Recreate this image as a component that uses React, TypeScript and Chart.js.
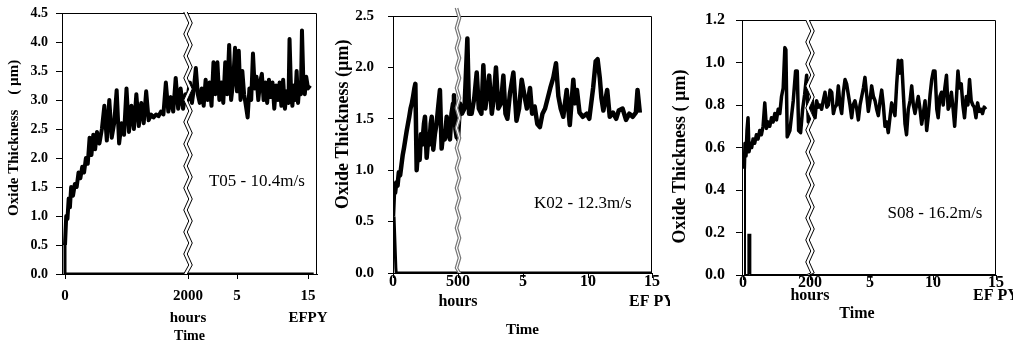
import React, { useEffect, useRef } from "react";
import { Chart, registerables } from "chart.js";

Chart.register(...registerables);

const SERIF = "'Liberation Serif', 'Times New Roman', Times, serif";

type Pt = [number, number];

// ---------------- T05 - 10.4 m/s ----------------
const T05_HOURS: Pt[] = [
  [0, 0.5], [20, 1.0], [40, 0.95], [60, 1.3], [80, 1.15], [100, 1.5], [130, 1.35], [160, 1.55],
  [190, 1.5], [220, 1.75], [250, 1.65], [280, 1.85], [310, 1.75], [340, 2.0], [370, 1.9], [400, 2.35],
  [430, 2.05], [460, 2.4], [490, 2.15], [520, 2.45], [560, 2.25], [600, 2.5], [640, 2.9], [680, 2.3],
  [720, 3.0], [760, 2.35], [800, 2.6], [840, 3.17], [880, 2.25], [920, 2.6], [960, 2.4], [1000, 3.2],
  [1040, 2.45], [1080, 2.9], [1120, 2.5], [1160, 3.1], [1200, 2.55], [1240, 2.95], [1280, 2.6], [1320, 3.15],
  [1360, 2.65], [1400, 2.75], [1440, 2.7], [1480, 2.75], [1520, 2.72], [1560, 2.8], [1600, 2.75], [1640, 3.3],
  [1680, 2.8], [1720, 3.05], [1760, 2.8], [1800, 3.38], [1840, 2.85], [1880, 3.2], [1920, 2.85], [1960, 3.1],
  [2000, 3.0],
];
const T05_EFPY: Pt[] = [
  [0, 3.1], [0.2, 3.3], [0.4, 2.95], [0.6, 3.2], [0.8, 3.55], [1.0, 3.1], [1.2, 2.95], [1.4, 3.2],
  [1.6, 2.9], [1.8, 3.35], [2.0, 3.0], [2.2, 3.3], [2.4, 2.9], [2.6, 3.65], [2.8, 3.1], [3.0, 3.65],
  [3.2, 3.0], [3.4, 3.3], [3.6, 2.95], [3.8, 3.65], [4.0, 3.1], [4.2, 3.95], [4.4, 3.0], [4.6, 3.3],
  [4.8, 3.9], [5.0, 3.15], [5.25, 3.85], [5.5, 3.0], [5.75, 3.5], [6.0, 3.1], [6.25, 2.9], [6.5, 2.7],
  [6.75, 3.2], [7.0, 3.0], [7.25, 3.8], [7.5, 3.2], [7.75, 3.4], [8.0, 3.0], [8.25, 3.3], [8.5, 3.45],
  [8.75, 3.0], [9.0, 3.3], [9.25, 2.95], [9.5, 3.35], [9.75, 3.05], [10.0, 3.3], [10.25, 2.85], [10.5, 3.25],
  [10.75, 3.0], [11.0, 3.3], [11.25, 2.9], [11.5, 3.35], [11.75, 2.85], [12.0, 3.15], [12.25, 2.95], [12.4, 4.05],
  [12.6, 3.2], [12.8, 2.9], [13.0, 3.25], [13.2, 3.0], [13.4, 3.5], [13.6, 2.95], [13.8, 3.3], [14.0, 3.1],
  [14.15, 4.2], [14.35, 3.3], [14.55, 3.1], [14.75, 3.4], [15.0, 3.2], [15.3, 3.25],
];
const T05_ZERO_HOURS: Pt[] = [[0, 0.5], [0, 0]];
const T05_ZERO_EFPY: Pt[] = [[15.8, 0]];
const T05_TICKS_HOURS = [0, 2000];
const T05_TICKS_EFPY = [5, 15];
const T05_TICK_LABELS: (string | string[])[] = ["0", ["2000", "hours"], "5", ["15", "EFPY"]];

// ---------------- K02 - 12.3 m/s ----------------
const K02_HOURS: Pt[] = [
  [0, 0.55], [8, 0.8], [16, 0.78], [25, 0.88], [35, 0.85], [45, 0.98], [55, 0.95], [65, 1.05],
  [75, 1.15], [85, 1.22], [95, 1.3], [105, 1.38], [115, 1.45], [125, 1.52], [135, 1.6], [145, 1.65],
  [155, 1.72], [165, 1.8], [172, 1.84], [182, 1.0], [195, 1.25], [205, 1.1], [215, 1.35], [225, 1.25],
  [238, 1.45], [246, 1.52], [259, 1.12], [270, 1.3], [280, 1.25], [290, 1.45], [298, 1.52], [310, 1.2],
  [322, 1.35], [335, 1.45], [348, 1.62], [361, 1.78], [374, 1.21], [385, 1.35], [398, 1.3], [413, 1.52],
  [425, 1.35], [438, 1.3], [450, 1.55], [462, 1.65], [469, 1.73], [480, 1.4], [490, 1.32], [500, 1.32],
];
const K02_EFPY: Pt[] = [
  [0, 1.3], [0.15, 1.65], [0.3, 1.55], [0.5, 1.6], [0.72, 2.28], [0.85, 1.55], [1.05, 1.55], [1.25, 1.7],
  [1.44, 1.95], [1.6, 1.6], [1.8, 1.55], [1.95, 2.02], [2.1, 1.6], [2.25, 1.75], [2.4, 1.92], [2.6, 1.55],
  [2.75, 1.7], [2.92, 2.0], [3.1, 1.6], [3.3, 1.65], [3.49, 1.92], [3.65, 1.55], [3.8, 1.5], [4.0, 1.75],
  [4.26, 1.95], [4.5, 1.48], [4.7, 1.6], [4.9, 1.88], [5.15, 1.7], [5.3, 1.6], [5.54, 1.8], [5.7, 1.55],
  [5.9, 1.62], [6.1, 1.45], [6.3, 1.42], [6.5, 1.55], [6.7, 1.6], [6.9, 1.7], [7.1, 1.8], [7.33, 1.9],
  [7.54, 2.04], [7.72, 1.72], [7.9, 1.6], [8.1, 1.52], [8.36, 1.78], [8.6, 1.44], [8.87, 1.88], [9.0, 1.65],
  [9.15, 1.78], [9.35, 1.56], [9.6, 1.52], [9.9, 1.55], [10.1, 1.5], [10.4, 1.8], [10.6, 2.06], [10.75, 2.08],
  [10.92, 1.9], [11.05, 1.7], [11.2, 1.58], [11.5, 1.78], [11.7, 1.52], [11.95, 1.56], [12.2, 1.5], [12.4, 1.58],
  [12.7, 1.6], [12.97, 1.49], [13.23, 1.55], [13.49, 1.52], [13.74, 1.56], [13.87, 1.78], [14.05, 1.56],
];
const K02_ZERO_HOURS: Pt[] = [[8, 0.55], [22, 0.05], [25, 0]];
const K02_ZERO_EFPY: Pt[] = [[15, 0]];
const K02_TICKS_HOURS = [0, 500];
const K02_TICKS_EFPY = [5, 10, 15];
const K02_TICK_LABELS: (string | string[])[] = ["0", ["500", "hours"], "5", "10", ["15", "EF PY"]];

// ---------------- S08 - 16.2 m/s ----------------
const S08_HOURS: Pt[] = [
  [4, 0.5], [6, 0.62], [9, 0.56], [12, 0.68], [15, 0.74], [18, 0.58], [22, 0.62], [26, 0.6],
  [30, 0.64], [35, 0.62], [40, 0.66], [45, 0.64], [50, 0.68], [55, 0.66], [60, 0.7], [65, 0.81],
  [70, 0.69], [75, 0.72], [80, 0.7], [85, 0.74], [90, 0.72], [95, 0.76], [100, 0.73], [105, 0.78],
  [110, 0.76], [115, 0.84], [120, 0.88], [125, 1.07], [128, 1.06], [132, 0.65], [140, 0.68], [145, 0.75],
  [150, 0.82], [157, 0.96], [162, 0.96], [166, 0.68], [172, 0.67], [178, 0.78], [184, 0.85], [190, 0.94],
  [195, 0.72], [200, 0.8],
];
const S08_EFPY: Pt[] = [
  [0, 0.78], [0.15, 0.85], [0.28, 0.75], [0.42, 0.74], [0.55, 0.82], [0.69, 0.79], [0.83, 0.8], [0.97, 0.78],
  [1.1, 0.82], [1.25, 0.86], [1.4, 0.79], [1.53, 0.8], [1.67, 0.87], [1.81, 0.86], [1.95, 0.76], [2.08, 0.79],
  [2.22, 0.8], [2.36, 0.89], [2.5, 0.8], [2.64, 0.76], [2.78, 0.86], [2.92, 0.92], [3.05, 0.9], [3.19, 0.85],
  [3.33, 0.8], [3.47, 0.74], [3.6, 0.8], [3.75, 0.82], [3.9, 0.78], [4.03, 0.73], [4.17, 0.8], [4.31, 0.84],
  [4.45, 0.88], [4.58, 0.93], [4.72, 0.85], [4.86, 0.77], [5.0, 0.82], [5.13, 0.89], [5.27, 0.84], [5.4, 0.82],
  [5.53, 0.78], [5.66, 0.75], [5.8, 0.82], [5.93, 0.87], [6.06, 0.8], [6.19, 0.7], [6.32, 0.72], [6.45, 0.67],
  [6.6, 0.75], [6.72, 0.81], [6.85, 0.78], [6.98, 0.75], [7.12, 0.9], [7.25, 1.01], [7.38, 0.95], [7.51, 1.01],
  [7.65, 0.85], [7.78, 0.71], [7.9, 0.66], [8.04, 0.78], [8.18, 0.82], [8.31, 0.89], [8.44, 0.8], [8.57, 0.76],
  [8.7, 0.8], [8.83, 0.84], [8.97, 0.78], [9.1, 0.71], [9.23, 0.76], [9.37, 0.82], [9.5, 0.68], [9.63, 0.75],
  [9.77, 0.85], [9.9, 0.92], [10.03, 0.96], [10.16, 0.96], [10.3, 0.78], [10.41, 0.74], [10.55, 0.84], [10.68, 0.86],
  [10.81, 0.8], [10.94, 0.88], [11.07, 0.94], [11.2, 0.78], [11.33, 0.8], [11.46, 0.86], [11.6, 0.78], [11.72, 0.7],
  [11.85, 0.82], [11.98, 0.96], [12.1, 0.88], [12.24, 0.9], [12.37, 0.8], [12.5, 0.74], [12.64, 0.84], [12.77, 0.8],
  [12.9, 0.92], [13.03, 0.82], [13.16, 0.8], [13.28, 0.79], [13.41, 0.74], [13.54, 0.81], [13.67, 0.77], [13.8, 0.78],
  [13.93, 0.76], [14.06, 0.79], [14.2, 0.78],
];
const S08_ZERO_HOURS: Pt[] = [[6, 0.52], [6, 0], [16, 0], [16, 0.19], [22, 0.19], [22, 0]];
const S08_ZERO_EFPY: Pt[] = [[15, 0]];
const S08_TICKS_HOURS = [0, 200];
const S08_TICKS_EFPY = [5, 10, 15];
const S08_TICK_LABELS: (string | string[])[] = ["0", ["200", "hours"], "5", "10", ["15", "EF PY"]];

// ---------------- panel layout ----------------
interface Panel {
  left: number; width: number;
  yWidth: number; padTop: number; padRight: number; xHeight: number;
  uMin: number; uMax: number; uBreak: number; hBreak: number;
  eKnots: number[]; uKnots: number[];
  hours: Pt[]; efpy: Pt[]; zeroHours: Pt[]; zeroEfpy: Pt[];
  ticksH: number[]; ticksE: number[]; tickLabels: (string | string[])[];
  yMax: number; yStep: number;
  yTitle: string; yTitleSize: number; yTitlePad: number;
  xTitle: string; xTitleSize: number; xTitlePad: number;
  yTickSize: number; yTickLen: number; yTickPad: number;
  xTickSize: number; xTickLH: number; xTickPad: number;
  lineWidth: number; zeroWidth: number;
  brk: { amp: number; step: number; gap: number; over: number; color: string; width: number };
  note: string; noteSize: number; noteE: number; noteY: number;
}

const PANELS: Panel[] = [
  {
    left: 0, width: 333, yWidth: 62, padTop: 13, padRight: 16, xHeight: 72,
    uMin: -3, uMax: 252, uBreak: 123, hBreak: 2000, eKnots: [0, 5, 15], uKnots: [123, 172, 243],
    hours: T05_HOURS, efpy: T05_EFPY, zeroHours: T05_ZERO_HOURS, zeroEfpy: T05_ZERO_EFPY,
    ticksH: T05_TICKS_HOURS, ticksE: T05_TICKS_EFPY, tickLabels: T05_TICK_LABELS,
    yMax: 4.5, yStep: 0.5,
    yTitle: "   Oxide Thickness    ( \u00b5m)", yTitleSize: 15, yTitlePad: 5,
    xTitle: "Time", xTitleSize: 14, xTitlePad: 1,
    yTickSize: 14, yTickLen: 6, yTickPad: 8,
    xTickSize: 15, xTickLH: 22, xTickPad: 6,
    lineWidth: 4, zeroWidth: 3,
    brk: { amp: 2.5, step: 11, gap: 3.5, over: 1, color: "#000", width: 1 },
    note: "T05 - 10.4m/s", noteSize: 17, noteE: 7.8, noteY: 1.59,
  },
  {
    left: 333, width: 337, yWidth: 60, padTop: 16, padRight: 18, xHeight: 73,
    uMin: 0, uMax: 259, uBreak: 65, hBreak: 500, eKnots: [0, 5, 10, 15], uKnots: [65, 130, 195, 259],
    hours: K02_HOURS, efpy: K02_EFPY, zeroHours: K02_ZERO_HOURS, zeroEfpy: K02_ZERO_EFPY,
    ticksH: K02_TICKS_HOURS, ticksE: K02_TICKS_EFPY, tickLabels: K02_TICK_LABELS,
    yMax: 2.5, yStep: 0.5,
    yTitle: "         Oxide Thickness (\u00b5m)", yTitleSize: 18, yTitlePad: 0,
    xTitle: "Time", xTitleSize: 15, xTitlePad: 7,
    yTickSize: 15, yTickLen: 5, yTickPad: 14,
    xTickSize: 16, xTickLH: 20, xTickPad: -6,
    lineWidth: 4.5, zeroWidth: 3,
    brk: { amp: 1.5, step: 10, gap: 2.5, over: 8, color: "#777", width: 1.2 },
    note: "K02 - 12.3m/s", noteSize: 17, noteE: 9.6, noteY: 0.68,
  },
  {
    left: 670, width: 343, yWidth: 72, padTop: 20, padRight: 17, xHeight: 71,
    uMin: -1, uMax: 253, uBreak: 67, hBreak: 200, eKnots: [0, 5, 10, 15], uKnots: [67, 127, 190, 253],
    hours: S08_HOURS, efpy: S08_EFPY, zeroHours: S08_ZERO_HOURS, zeroEfpy: S08_ZERO_EFPY,
    ticksH: S08_TICKS_HOURS, ticksE: S08_TICKS_EFPY, tickLabels: S08_TICK_LABELS,
    yMax: 1.2, yStep: 0.2,
    yTitle: "Oxide Thickness ( \u00b5m)    ", yTitleSize: 18, yTitlePad: 0,
    xTitle: "Time      ", xTitleSize: 16, xTitlePad: 23,
    yTickSize: 16, yTickLen: 6, yTickPad: 11,
    xTickSize: 16, xTickLH: 13, xTickPad: -4,
    lineWidth: 3.5, zeroWidth: 2,
    brk: { amp: 2.5, step: 11, gap: 3.5, over: 0, color: "#000", width: 1 },
    note: "S08 - 16.2m/s", noteSize: 17, noteE: 10.16, noteY: 0.29,
  },
];

function makeToU(p: Panel) {
  return (seg: "h" | "e", v: number): number => {
    if (seg === "h") return (v / p.hBreak) * p.uBreak;
    const E = p.eKnots;
    const U = p.uKnots;
    for (let i = 0; i < E.length - 1; i++) {
      if (v <= E[i + 1] || i === E.length - 2) {
        return U[i] + ((v - E[i]) / (E[i + 1] - E[i])) * (U[i + 1] - U[i]);
      }
    }
    return U[U.length - 1];
  };
}

function PanelChart({ p }: { p: Panel }) {
  const ref = useRef<HTMLCanvasElement>(null);

  useEffect(() => {
    const canvas = ref.current;
    if (!canvas) return;
    const toU = makeToU(p);
    const main = [
      ...p.hours.map(([h, y]) => ({ x: toU("h", h), y })),
      ...p.efpy.map(([e, y]) => ({ x: toU("e", e), y })),
    ];
    const zero = [
      ...p.zeroHours.map(([h, y]) => ({ x: toU("h", h), y })),
      ...p.zeroEfpy.map(([e, y]) => ({ x: toU("e", e), y })),
    ];
    const tickVals = [
      ...p.ticksH.map((h) => toU("h", h)),
      ...p.ticksE.map((e) => toU("e", e)),
    ];

    const deco = {
      id: "deco",
      afterDatasetsDraw(chart: any) {
        const { ctx, chartArea: a, scales } = chart;
        const xs = scales.x;
        const ys = scales.y;
        ctx.save();
        // frame (top + right)
        ctx.strokeStyle = "#000";
        ctx.lineWidth = 1;
        ctx.beginPath();
        ctx.moveTo(a.left, a.top + 0.5);
        ctx.lineTo(a.right - 0.5, a.top + 0.5);
        ctx.lineTo(a.right - 0.5, a.bottom);
        ctx.stroke();

        // axis break
        const bx = xs.getPixelForValue(p.uBreak);
        const top = a.top - p.brk.over;
        const bottom = a.bottom;
        const pts: [number, number][] = [];
        let i = 0;
        for (let y = top; y < bottom; y += p.brk.step, i++) {
          pts.push([bx + (i % 2 ? p.brk.amp : -p.brk.amp), y]);
        }
        pts.push([bx + (i % 2 ? p.brk.amp : -p.brk.amp), bottom]);
        const g = p.brk.gap / 2;
        ctx.beginPath();
        pts.forEach(([x, y], k) => (k ? ctx.lineTo(x - g, y) : ctx.moveTo(x - g, y)));
        for (let k = pts.length - 1; k >= 0; k--) ctx.lineTo(pts[k][0] + g, pts[k][1]);
        ctx.closePath();
        ctx.fillStyle = "#fff";
        ctx.fill();
        ctx.strokeStyle = p.brk.color;
        ctx.lineWidth = p.brk.width;
        for (const s of [-g, g]) {
          ctx.beginPath();
          pts.forEach(([x, y], k) => (k ? ctx.lineTo(x + s, y) : ctx.moveTo(x + s, y)));
          ctx.stroke();
        }

        // note
        ctx.font = `${p.noteSize}px ${SERIF}`;
        ctx.fillStyle = "#000";
        ctx.textAlign = "center";
        ctx.textBaseline = "middle";
        ctx.fillText(p.note, xs.getPixelForValue(toU("e", p.noteE)), ys.getPixelForValue(p.noteY));
        ctx.restore();
      },
    };

    const chart = new Chart(canvas, {
      type: "line",
      data: {
        datasets: [
          {
            data: main,
            borderColor: "#000",
            borderWidth: p.lineWidth,
            pointRadius: 0,
            tension: 0,
            borderJoinStyle: "round",
            fill: false,
          },
          {
            data: zero,
            borderColor: "#000",
            borderWidth: p.zeroWidth,
            pointRadius: 0,
            tension: 0,
            fill: false,
          },
        ],
      },
      options: {
        animation: false,
        responsive: false,
        maintainAspectRatio: false,
        devicePixelRatio: 1,
        events: [],
        layout: {
          autoPadding: false,
          padding: { left: 0, top: p.padTop, right: p.padRight, bottom: 0 },
        },
        plugins: { legend: { display: false }, tooltip: { enabled: false } },
        scales: {
          x: {
            type: "linear",
            min: p.uMin,
            max: p.uMax,
            afterBuildTicks: (s: any) => {
              s.ticks = tickVals.map((value) => ({ value }));
            },
            afterFit: (s: any) => {
              s.height = p.xHeight;
              s.paddingLeft = 0;
              s.paddingRight = 0;
            },
            ticks: {
              autoSkip: false,
              maxRotation: 0,
              minRotation: 0,
              padding: p.xTickPad,
              color: "#000",
              font: { family: SERIF, size: p.xTickSize, weight: "bold", lineHeight: p.xTickLH / p.xTickSize },
              callback: (_v: any, i: number) => p.tickLabels[i],
            },
            grid: { display: true, drawOnChartArea: false, drawTicks: true, tickLength: 5, color: "#000", lineWidth: 1 },
            border: { display: true, color: "#000", width: 1 },
            title: {
              display: true,
              text: p.xTitle,
              color: "#000",
              font: { family: SERIF, size: p.xTitleSize, weight: "bold" },
              padding: { top: 0, bottom: p.xTitlePad },
            },
          },
          y: {
            type: "linear",
            min: 0,
            max: p.yMax,
            afterFit: (s: any) => {
              s.width = p.yWidth;
              s.paddingTop = 0;
              s.paddingBottom = 0;
            },
            ticks: {
              stepSize: p.yStep,
              padding: p.yTickPad,
              color: "#000",
              font: { family: SERIF, size: p.yTickSize, weight: "bold" },
              callback: (v: any) => Number(v).toFixed(1),
            },
            grid: { display: true, drawOnChartArea: false, drawTicks: true, tickLength: p.yTickLen, color: "#000", lineWidth: 1 },
            border: { display: true, color: "#000", width: 1 },
            title: {
              display: true,
              text: p.yTitle,
              color: "#000",
              font: { family: SERIF, size: p.yTitleSize, weight: "bold" },
              padding: { top: p.yTitlePad, bottom: 0 },
            },
          },
        },
      } as any,
      plugins: [deco],
    });
    return () => chart.destroy();
  }, [p]);

  return (
    <canvas
      ref={ref}
      width={p.width}
      height={346}
      style={{ position: "absolute", left: p.left, top: 0, width: p.width, height: 346 }}
    />
  );
}

export default function App() {
  return (
    <div style={{ position: "absolute", left: 0, top: 0, width: 1013, height: 346, background: "#fff", overflow: "hidden" }}>
      {PANELS.map((p, i) => (
        <PanelChart key={i} p={p} />
      ))}
    </div>
  );
}
